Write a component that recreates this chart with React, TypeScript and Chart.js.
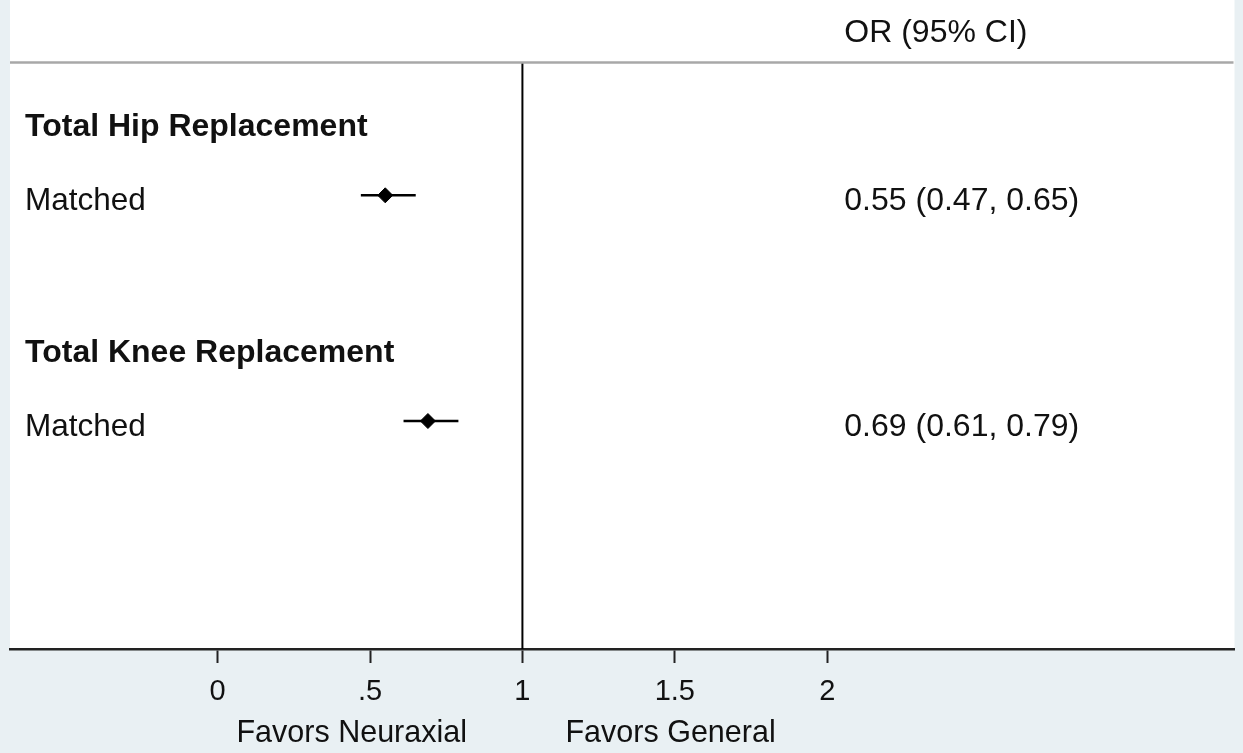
import React, { useEffect, useRef } from "react";
import { Chart, registerables } from "chart.js";

Chart.register(...registerables);

const groupTitles = ["Total Hip Replacement", "Total Knee Replacement"];
const subLabels = ["Matched", "Matched"];
const orValues = [0.55, 0.69];
const ciLower = [0.47, 0.61];
const ciUpper = [0.65, 0.79];
const orTexts = ["0.55 (0.47, 0.65)", "0.69 (0.61, 0.79)"];
const titleRows = [1, 4];
const dataRows = [2, 5];
const xTicks = [0, 0.5, 1, 1.5, 2];
const xTickLabels = ["0", ".5", "1", "1.5", "2"];
const favorsLabels = ["Favors Neuraxial", "Favors General"];
const favorsPositions = [0.44, 1.486];
const headerText = "OR (95% CI)";
const nullValue = 1;

const FONT = "'Liberation Sans', Arial, Helvetica, sans-serif";
const Y_MIN = -0.483;
const Y_MAX = 8.03;
const HEADER_ROW = -0.16;
const SEP_ROW = 0.235;
const OR_COL = 2.056;

export default function App() {
  const ref = useRef<HTMLCanvasElement | null>(null);

  useEffect(() => {
    const canvas = ref.current;
    if (!canvas) return;

    const bgPlugin = {
      id: "bgPlugin",
      beforeDraw(chart: any) {
        const { ctx, chartArea } = chart;
        ctx.save();
        ctx.fillStyle = "#ffffff";
        ctx.fillRect(chartArea.left, 0, chartArea.right - chartArea.left, chartArea.bottom);
        ctx.restore();
      },
    };

    const textPlugin = {
      id: "textPlugin",
      afterDraw(chart: any) {
        const { ctx, chartArea, scales } = chart;
        const xs = scales.x;
        const ys = scales.y;
        ctx.save();
        const sepY = ys.getPixelForValue(SEP_ROW);
        ctx.strokeStyle = "#a8a8a8";
        ctx.lineWidth = 2.5;
        ctx.beginPath();
        ctx.moveTo(chartArea.left, sepY);
        ctx.lineTo(chartArea.right - 1, sepY);
        ctx.stroke();

        ctx.fillStyle = "#111111";
        ctx.textBaseline = "middle";
        ctx.textAlign = "left";
        const leftX = chartArea.left + 15;
        const orX = xs.getPixelForValue(OR_COL);

        ctx.font = `32px ${FONT}`;
        ctx.fillText(headerText, orX, ys.getPixelForValue(HEADER_ROW));

        groupTitles.forEach((t, i) => {
          ctx.font = `bold 32px ${FONT}`;
          ctx.fillText(t, leftX, ys.getPixelForValue(titleRows[i]) + 7);
        });
        subLabels.forEach((t, i) => {
          ctx.font = `31.5px ${FONT}`;
          ctx.fillText(t, leftX, ys.getPixelForValue(dataRows[i]) + 6);
          ctx.font = `32px ${FONT}`;
          ctx.fillText(orTexts[i], orX, ys.getPixelForValue(dataRows[i]) + 6);
        });

        ctx.textAlign = "center";
        ctx.font = `30.5px ${FONT}`;
        favorsLabels.forEach((t, i) => {
          ctx.fillText(t, xs.getPixelForValue(favorsPositions[i]), 734);
        });
        ctx.restore();
      },
    };

    const ciDatasets = orValues.map((_, i) => ({
      type: "line" as const,
      data: [
        { x: ciLower[i], y: dataRows[i] },
        { x: ciUpper[i], y: dataRows[i] },
      ],
      borderColor: "#000000",
      borderWidth: 2.5,
      pointRadius: 0,
      showLine: true,
      order: 2,
    }));

    const chart = new Chart(canvas, {
      type: "scatter",
      data: {
        datasets: [
          {
            type: "line" as const,
            data: [
              { x: nullValue, y: SEP_ROW },
              { x: nullValue, y: Y_MAX },
            ],
            borderColor: "#000000",
            borderWidth: 2,
            pointRadius: 0,
            showLine: true,
            order: 3,
          },
          ...ciDatasets,
          {
            type: "scatter" as const,
            data: orValues.map((v, i) => ({ x: v, y: dataRows[i] })),
            pointStyle: "rectRot",
            pointRadius: 7.5,
            backgroundColor: "#000000",
            borderColor: "#000000",
            borderWidth: 1,
            order: 1,
          },
        ],
      },
      options: {
        animation: false,
        responsive: false,
        devicePixelRatio: 1,
        layout: { padding: { left: 10, right: 6, top: 0, bottom: 0 } },
        plugins: { legend: { display: false }, tooltip: { enabled: false } },
        scales: {
          x: {
            type: "linear",
            min: -0.681,
            max: 3.336,
            afterBuildTicks: (scale: any) => {
              scale.ticks = xTicks.map((v) => ({ value: v }));
            },
            afterFit: (scale: any) => {
              scale.height = 104;
            },
            ticks: {
              autoSkip: false,
              maxRotation: 0,
              padding: 12,
              color: "#111111",
              font: { family: FONT, size: 29 },
              callback: (_v: any, i: number) => xTickLabels[i],
            },
            grid: {
              drawOnChartArea: false,
              drawTicks: true,
              tickLength: 14,
              tickColor: "#222222",
              tickWidth: 2,
            },
            border: { display: true, color: "#222222", width: 2.5 },
          },
          y: {
            type: "linear",
            display: false,
            min: Y_MIN,
            max: Y_MAX,
            reverse: true,
          },
        },
      },
      plugins: [bgPlugin, textPlugin],
    } as any);

    return () => chart.destroy();
  }, []);

  return (
    <div
      style={{
        position: "absolute",
        left: 0,
        top: 0,
        width: 1243,
        height: 753,
        background: "#e9f0f3",
      }}
    >
      <canvas ref={ref} width={1243} height={753} style={{ display: "block" }} />
    </div>
  );
}
